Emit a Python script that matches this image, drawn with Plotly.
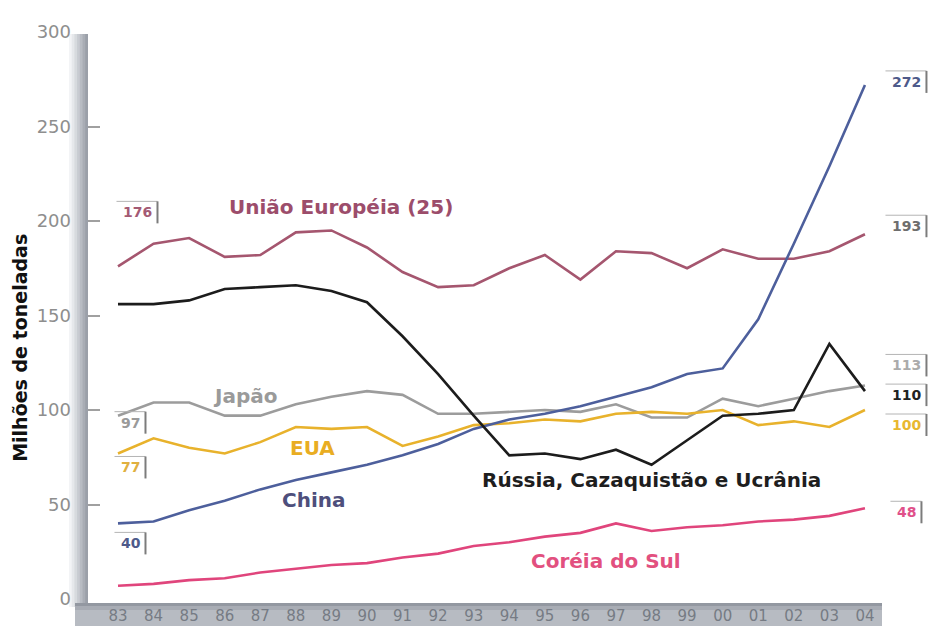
import plotly.graph_objects as go

# Steel consumption, million tonnes, 1983-2004
years = list(range(1983, 2005))
year_labels = [str(y)[2:] for y in years]

uniao_europeia = [176, 188, 191, 181, 182, 194, 195, 186, 173, 165, 166, 175, 182, 169, 184, 183, 175, 185, 180, 180, 184, 193]
russia_caz_ucr = [156, 156, 158, 164, 165, 166, 163, 157, 139, 119, 97, 76, 77, 74, 79, 71, 84, 97, 98, 100, 135, 110]
japao = [97, 104, 104, 97, 97, 103, 107, 110, 108, 98, 98, 99, 100, 99, 103, 96, 96, 106, 102, 106, 110, 113]
eua = [77, 85, 80, 77, 83, 91, 90, 91, 81, 86, 92, 93, 95, 94, 98, 99, 98, 100, 92, 94, 91, 100]
china = [40, 41, 47, 52, 58, 63, 67, 71, 76, 82, 90, 95, 98, 102, 107, 112, 119, 122, 148, 188, 229, 272]
coreia_do_sul = [7, 8, 10, 11, 14, 16, 18, 19, 22, 24, 28, 30, 33, 35, 40, 36, 38, 39, 41, 42, 44, 48]

y_ticks = [0, 50, 100, 150, 200, 250, 300]

C_EU = "#a5566f"
C_RU = "#1c1c1c"
C_JP = "#9c9c9c"
C_US = "#e8b22c"
C_CN = "#4d5f9c"
C_KR = "#e0457c"

FONT = "DejaVu Sans"

# plot area geometry (pixels)
PLOT_W = 845
BAND_RIGHT = (882 - 88) / PLOT_W
BAND_LEFT = (75 - 88) / PLOT_W

fig = go.Figure()

series = [
    (uniao_europeia, C_EU),
    (japao, C_JP),
    (eua, C_US),
    (china, C_CN),
    (russia_caz_ucr, C_RU),
    (coreia_do_sul, C_KR),
]
for vals, col in series:
    fig.add_trace(go.Scatter(x=years, y=vals, mode="lines",
                             line=dict(color=col, width=2.6),
                             hoverinfo="skip", showlegend=False))

shapes = []
annotations = []

# Shaded vertical axis bar on the left edge of the plot
bar_cols = ["#f3f4f6", "#e6e8eb", "#d7dade", "#c8cbd1", "#b8bcc3", "#a9adb5", "#9ba0a9"]
for i, col in enumerate(bar_cols):
    shapes.append(dict(type="rect", layer="below", line=dict(width=0), fillcolor=col,
                       xref="paper", xsizemode="pixel", xanchor=0,
                       x0=-19 + i * 2.7, x1=0,
                       yref="paper", ysizemode="pixel", yanchor=1,
                       y0=-2, y1=-575))

# Shaded horizontal band along the bottom carrying the year labels
band_rows = [("#9398a1", -4, -7), ("#a8acb4", -7, -11), ("#b7bbc2", -11, -30)]
for col, y0, y1 in band_rows:
    shapes.append(dict(type="rect", layer="below", line=dict(width=0), fillcolor=col,
                       xref="paper", x0=BAND_LEFT, x1=BAND_RIGHT,
                       yref="paper", ysizemode="pixel", yanchor=0,
                       y0=y0, y1=y1))

# Series names
name_labels = [
    ("União Européia (25)", 1989.27, 207.5, "#9c4d6b", 20),
    ("Japão", 1986.58, 107.5, "#9a9a9a", 20),
    ("EUA", 1988.48, 80.0, "#e9ad22", 20),
    ("China", 1988.5, 52.4, "#4e4f7c", 20),
    ("Rússia, Cazaquistão e Ucrânia", 1998.0, 63.0, "#1e1e1e", 20),
    ("Coréia do Sul", 1996.72, 20.1, "#e2507f", 20),
]
for txt, xx, yy, col, sz in name_labels:
    annotations.append(dict(x=xx, y=yy, xref="x", yref="y", text=txt, showarrow=False,
                            xanchor="center", yanchor="middle",
                            font=dict(family=FONT, size=sz, color=col, weight="bold")))

# Start / end value tags with a bracket
def value_tag(year, value, dx, dy, col):
    txt = str(value)
    hw = 5.0 * len(txt) + 0.5
    annotations.append(dict(x=year, y=value, xref="x", yref="y", text=txt, showarrow=False,
                            xanchor="center", yanchor="middle", xshift=dx, yshift=-dy,
                            font=dict(family=FONT, size=14, color=col, weight="bold")))
    top = -dy + 11
    bot = -dy - 11
    right = dx + hw + 4
    shapes.append(dict(type="line", xref="x", xsizemode="pixel", xanchor=year,
                       x0=dx - hw - 6, x1=right,
                       yref="y", ysizemode="pixel", yanchor=value, y0=top, y1=top,
                       line=dict(color="#b4b4b4", width=1)))
    shapes.append(dict(type="line", xref="x", xsizemode="pixel", xanchor=year,
                       x0=right, x1=right,
                       yref="y", ysizemode="pixel", yanchor=value, y0=top, y1=bot,
                       line=dict(color="#7c7c7c", width=2)))

value_tag(years[0], uniao_europeia[0], 20, -54, "#a45a74")
value_tag(years[0], japao[0], 13, 7, "#9a9a9a")
value_tag(years[0], eua[0], 13, 14, "#e0b040")
value_tag(years[0], china[0], 13, 20, "#4e5a8a")

value_tag(years[-1], china[-1], 42, -3, "#4e5a8a")
value_tag(years[-1], uniao_europeia[-1], 42, -8, "#6e6e6e")
value_tag(years[-1], japao[-1], 42, -20, "#ababab")
value_tag(years[-1], russia_caz_ucr[-1], 42, 4, "#222222")
value_tag(years[-1], eua[-1], 42, 15, "#e8b830")
value_tag(years[-1], coreia_do_sul[-1], 42, 4, "#e0508a")

# Vertical axis title
annotations.append(dict(x=(20 - 88) / PLOT_W, y=0.443, xref="paper", yref="paper",
                        text="Milhões de toneladas", textangle=-90, showarrow=False,
                        xanchor="center", yanchor="middle",
                        font=dict(family=FONT, size=19, color="#111111", weight="bold")))

x0 = 1982.157
fig.update_layout(
    width=933, height=626,
    margin=dict(l=88, r=0, t=32, b=27, autoexpand=False),
    paper_bgcolor="white", plot_bgcolor="white",
    shapes=shapes, annotations=annotations,
    showlegend=False,
    xaxis=dict(range=[x0, x0 + PLOT_W / 35.57], tickvals=years, ticktext=year_labels,
               ticks="", showline=False, showgrid=False, zeroline=False,
               automargin=False, ticklabelstandoff=6,
               tickfont=dict(family=FONT, size=15, color="#767b84")),
    yaxis=dict(range=[0, 300], tickvals=y_ticks, ticks="inside", ticklen=12,
               tickwidth=2, tickcolor="#a0a0a0",
               showline=False, showgrid=False, zeroline=False,
               automargin=False, ticklabelstandoff=16,
               tickfont=dict(family=FONT, size=18, color="#8e8e8e")),
)

fig.write_html("out.html")
